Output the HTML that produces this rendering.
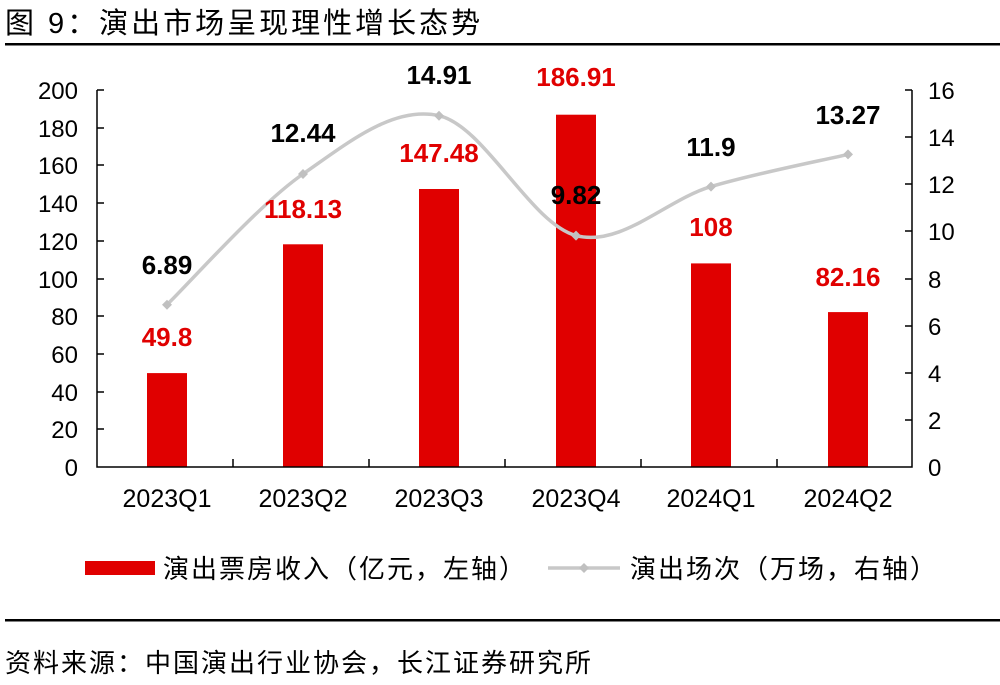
<!DOCTYPE html>
<html><head><meta charset="utf-8"><style>
body{margin:0;background:#fff;}
svg text{font-family:"Liberation Sans","Noto Sans CJK SC",sans-serif;}
</style></head><body>
<svg width="1000" height="680" viewBox="0 0 1000 680" xmlns="http://www.w3.org/2000/svg">
<text x="5" y="33" font-size="29" letter-spacing="3" fill="#000">图  9：演出市场呈现理性增长态势</text>
<rect x="5" y="43" width="995" height="2.5" fill="#000"/>
<g fill="#e00000">
<rect x="147" y="373.1" width="40" height="93.9"/>
<rect x="283" y="244.3" width="40" height="222.7"/>
<rect x="419" y="189" width="40" height="278"/>
<rect x="556" y="114.7" width="40" height="352.3"/>
<rect x="691" y="263.4" width="40" height="203.6"/>
<rect x="828" y="312.1" width="40" height="154.9"/>
</g>
<g stroke="#000" stroke-width="1.5" fill="none">
<path d="M97,90 V467 H912 V90"/>
<path d="M97,90h7M97,128h7M97,165h7M97,203h7M97,241h7M97,279h7M97,316h7M97,354h7M97,392h7M97,429h7"/>
<path d="M912,90h-7M912,137h-7M912,184h-7M912,231h-7M912,279h-7M912,326h-7M912,373h-7M912,420h-7"/>
<path d="M233,467v-8M369,467v-8M505,467v-8M641,467v-8M777,467v-8"/>
</g>
<g font-size="24" text-anchor="end" fill="#000">
<text x="78" y="99">200</text><text x="78" y="137">180</text><text x="78" y="174">160</text><text x="78" y="212">140</text><text x="78" y="250">120</text><text x="78" y="288">100</text><text x="78" y="325">80</text><text x="78" y="363">60</text><text x="78" y="401">40</text><text x="78" y="438">20</text><text x="78" y="476">0</text>
</g>
<g font-size="24" text-anchor="start" fill="#000">
<text x="928" y="99">16</text><text x="928" y="146">14</text><text x="928" y="193">12</text><text x="928" y="240">10</text><text x="928" y="288">8</text><text x="928" y="335">6</text><text x="928" y="382">4</text><text x="928" y="429">2</text><text x="928" y="476">0</text>
</g>
<g font-size="25" text-anchor="middle" fill="#000">
<text x="167" y="507">2023Q1</text><text x="303" y="507">2023Q2</text><text x="439" y="507">2023Q3</text><text x="576" y="507">2023Q4</text><text x="711" y="507">2024Q1</text><text x="848" y="507">2024Q2</text>
</g>
<path d="M167,304.7 C189.7,282.9 257.7,205.5 303,174 C348.3,142.5 393.5,105.4 439,115.7 C484.5,126 530.7,223.8 576,235.6 C621.3,247.4 665.7,200.1 711,186.6 C756.3,173.1 825.2,159.8 848,154.4" stroke="#c8c8c8" stroke-width="3.5" fill="none"/>
<g fill="#c0c0c0">
<path d="M167,299.7l5,5l-5,5l-5,-5z"/><path d="M303,169l5,5l-5,5l-5,-5z"/><path d="M439,110.7l5,5l-5,5l-5,-5z"/><path d="M576,230.6l5,5l-5,5l-5,-5z"/><path d="M711,181.6l5,5l-5,5l-5,-5z"/><path d="M848,149.4l5,5l-5,5l-5,-5z"/>
</g>
<g font-size="26" font-weight="bold" text-anchor="middle" fill="#e00000">
<text x="167" y="346">49.8</text><text x="303" y="218">118.13</text><text x="439" y="162">147.48</text><text x="576" y="86">186.91</text><text x="711" y="236">108</text><text x="848" y="286">82.16</text>
</g>
<g font-size="26" font-weight="bold" text-anchor="middle" fill="#000">
<text x="167" y="274">6.89</text><text x="303" y="142">12.44</text><text x="439" y="84">14.91</text><text x="576" y="204">9.82</text><text x="711" y="156">11.9</text><text x="848" y="124">13.27</text>
</g>
<rect x="85" y="561" width="70" height="14" fill="#e00000"/>
<text x="163" y="578" font-size="26" letter-spacing="2" fill="#000">演出票房收入（亿元，左轴）</text>
<path d="M548,568H620" stroke="#c8c8c8" stroke-width="3.5"/>
<path d="M584,563l5,5l-5,5l-5,-5z" fill="#c0c0c0"/>
<text x="630" y="578" font-size="26" letter-spacing="2" fill="#000">演出场次（万场，右轴）</text>
<rect x="5" y="619" width="995" height="2.5" fill="#000"/>
<text x="5" y="672" font-size="26" letter-spacing="2" fill="#000">资料来源：中国演出行业协会，长江证券研究所</text>
</svg>
</body></html>
